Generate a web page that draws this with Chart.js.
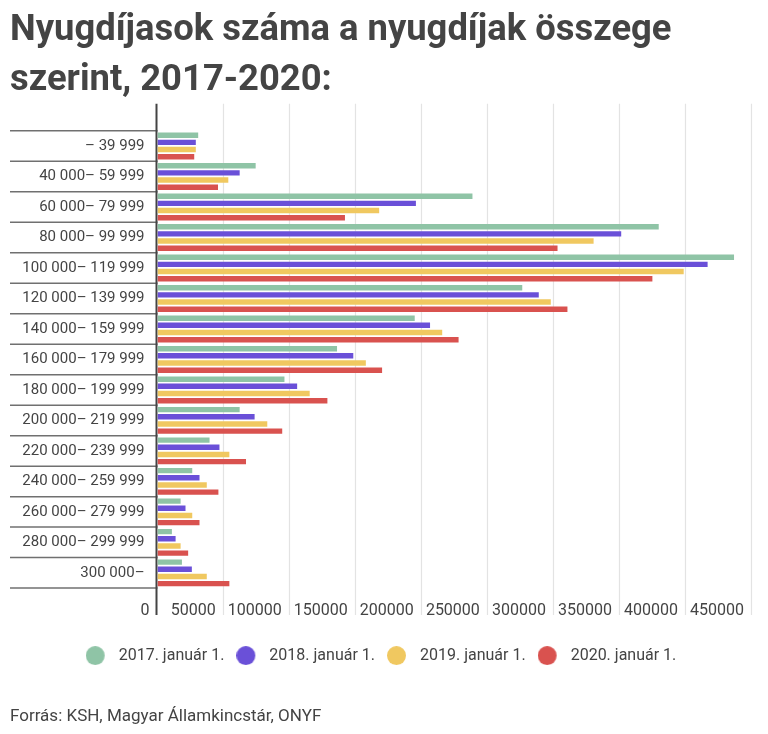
<!DOCTYPE html>
<html>
<head>
<meta charset="utf-8">
<script src="https://cdn.jsdelivr.net/npm/chart.js@4.4.1/dist/chart.umd.min.js"></script>
<style>
  html, body { margin: 0; padding: 0; background: #fff; }
  #wrap { width: 768px; height: 734px; position: relative; }
</style>
</head>
<body>
<div id="wrap"><canvas id="nyugdijChart"></canvas></div>
<script>
const categories = [
  '– 39 999', '40 000– 59 999', '60 000– 79 999', '80 000– 99 999',
  '100 000– 119 999', '120 000– 139 999', '140 000– 159 999', '160 000– 179 999',
  '180 000– 199 999', '200 000– 219 999', '220 000– 239 999', '240 000– 259 999',
  '260 000– 279 999', '280 000– 299 999', '300 000–'
];

const seriesNames = ['2017. január 1.', '2018. január 1.', '2019. január 1.', '2020. január 1.'];

const v2017 = [30800, 74300, 238400, 379400, 436400, 276100, 194700, 135900, 96100, 62200, 39400, 26300, 17500, 10900, 18500];
const v2018 = [29000, 62200, 195600, 351000, 416400, 288600, 206300, 148200, 105700, 73500, 46900, 31800, 21200, 13700, 26000];
const v2019 = [29000, 53600, 167800, 330100, 398300, 297700, 215500, 157700, 115200, 83100, 54400, 37300, 26300, 17500, 37300];
const v2020 = [27800, 45800, 141900, 302800, 374600, 310300, 227900, 170000, 128600, 94400, 67000, 46100, 31800, 23200, 54400];

const xTicks = [0, 50000, 100000, 150000, 200000, 250000, 300000, 350000, 400000, 450000];

const colors = ['#8fc4a6', '#6a50d8', '#f0c860', '#d9524f'];

// legend dot: circle at the left of a slightly wider canvas, so the text sits further off
function makeDot(color) {
  const c = document.createElement('canvas');
  c.width = 25;
  c.height = 19;
  const g = c.getContext('2d');
  g.fillStyle = color;
  g.beginPath();
  g.arc(9.5, 9.5, 9.5, 0, Math.PI * 2);
  g.fill();
  return c;
}

// axis line, extended gridlines and the category separators on the left
const frame = {
  id: 'frame',
  beforeDatasetsDraw(chart) {
    const { ctx, chartArea: a, scales: { x, y } } = chart;
    const ext = 27;
    function line(x1, y1, x2, y2) {
      ctx.beginPath();
      ctx.moveTo(x1, y1);
      ctx.lineTo(x2, y2);
      ctx.stroke();
    }
    ctx.save();
    ctx.strokeStyle = '#e3e3e3';
    ctx.lineWidth = 1.2;
    x.ticks.forEach(t => {
      if (t.value === 0) return;
      const px = Math.round(x.getPixelForValue(t.value)) - 0.5;
      line(px, a.top - ext, px, a.bottom + ext);
    });

    const band = (y.bottom - y.top) / categories.length;
    ctx.strokeStyle = '#707070';
    ctx.lineWidth = 1.5;
    for (let k = 0; k <= categories.length; k++) {
      const py = y.top + k * band;
      line(y.left, py, y.right, py);
    }

    ctx.strokeStyle = '#444';
    ctx.lineWidth = 2;
    const x0 = x.getPixelForValue(0) - 1;
    line(x0, a.top - ext, x0, a.bottom + ext);
    ctx.restore();
  }
};

const values = [v2017, v2018, v2019, v2020];

new Chart(document.getElementById('nyugdijChart'), {
  type: 'bar',
  data: {
    labels: categories,
    datasets: values.map((v, i) => ({
      label: seriesNames[i],
      data: v,
      backgroundColor: colors[i],
      borderWidth: 0,
      pointStyle: makeDot(colors[i]),
      barPercentage: 0.76,
      categoryPercentage: 0.94
    }))
  },
  options: {
    indexAxis: 'y',
    responsive: true,
    maintainAspectRatio: false,
    animation: false,
    layout: { padding: { left: 10, right: 16, top: 0, bottom: 0 } },
    font: { family: 'Roboto' },
    scales: {
      x: {
        min: 0,
        max: 450000,
        afterBuildTicks: s => { s.ticks = xTicks.map(v => ({ value: v })); },
        afterFit: s => { s.height = 47.5; },
        grid: { display: false },
        border: { display: false },
        ticks: {
          align: 'end',
          autoSkip: false,
          maxRotation: 0,
          padding: 5,
          color: '#444',
          font: { family: 'Roboto', size: 16 },
          callback: v => v + '  '
        }
      },
      y: {
        afterFit: s => { s.width = 147.5; },
        grid: { display: false },
        border: { display: false },
        ticks: {
          padding: 5,
          color: '#444',
          font: { family: 'Roboto', size: 15 }
        }
      }
    },
    plugins: {
      title: {
        display: true,
        text: ['Nyugdíjasok száma a nyugdíjak összege', 'szerint, 2017-2020:'],
        align: 'start',
        color: '#444',
        font: { family: 'Roboto', size: 36.4, weight: 'bold', lineHeight: 1.37 },
        padding: { top: 6, bottom: 25 }
      },
      subtitle: {
        display: true,
        position: 'bottom',
        text: 'Forrás: KSH, Magyar Államkincstár, ONYF',
        align: 'start',
        color: '#444',
        font: { family: 'Roboto', size: 17 },
        padding: { top: 33, bottom: 7 }
      },
      legend: {
        position: 'bottom',
        labels: {
          usePointStyle: true,
          pointStyleWidth: 25,
          boxHeight: 14,
          padding: 12,
          color: '#444',
          font: { family: 'Roboto', size: 16 }
        }
      },
      tooltip: { enabled: false }
    }
  },
  plugins: [frame]
});
</script>
</body>
</html>
